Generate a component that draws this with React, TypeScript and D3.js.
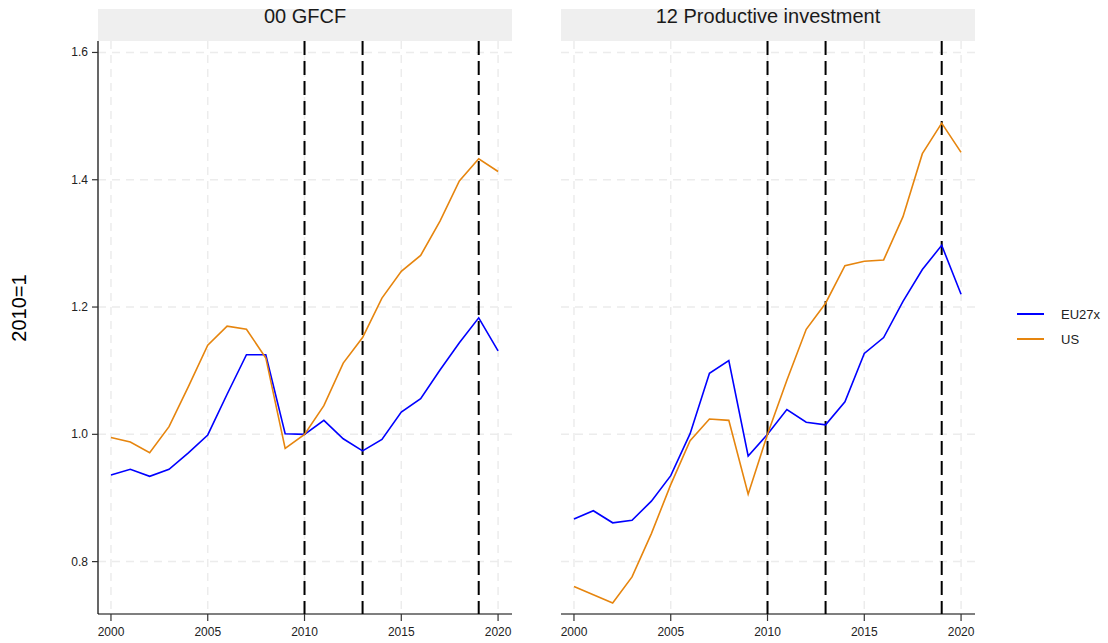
import React from "react";
import * as d3 from "d3";

const years = d3.range(2000, 2021);
const panels = ["00 GFCF", "12 Productive investment"];
const seriesNames = ["EU27x", "US"];
const seriesColors = ["#0000FF", "#E6850E"];

const gfcfEU = [0.936, 0.945, 0.934, 0.945, 0.971, 0.999, 1.063, 1.125, 1.125, 1.001, 1.0, 1.022, 0.993, 0.974, 0.992, 1.035, 1.056, 1.101, 1.144, 1.183, 1.131];
const gfcfUS = [0.995, 0.988, 0.971, 1.012, 1.075, 1.14, 1.17, 1.165, 1.12, 0.978, 1.0, 1.045, 1.112, 1.152, 1.214, 1.256, 1.281, 1.335, 1.398, 1.433, 1.413];
const prodEU = [0.867, 0.88, 0.861, 0.865, 0.895, 0.935, 1.001, 1.096, 1.116, 0.966, 1.0, 1.039, 1.019, 1.015, 1.051, 1.127, 1.152, 1.209, 1.259, 1.297, 1.22];
const prodUS = [0.761, 0.748, 0.735, 0.776, 0.844, 0.921, 0.99, 1.024, 1.022, 0.906, 1.0, 1.085, 1.165, 1.206, 1.265, 1.272, 1.274, 1.342, 1.441, 1.489, 1.443];

const panelData = [
  [gfcfEU, gfcfUS],
  [prodEU, prodUS],
];

const xTicks = [2000, 2005, 2010, 2015, 2020];
const yTicks = [0.8, 1.0, 1.2, 1.4, 1.6];
const vLines = [2010, 2013, 2019];

const W = 1108;
const H = 643;
const panelLefts = [98, 561];
const panelW = 414;
const plotTop = 41;
const plotBottom = 614;
const stripTop = 9;

const x = d3.scaleLinear().domain([1999.33, 2020.72]).range([0, panelW]);
const y = d3.scaleLinear().domain([0.7177, 1.618]).range([plotBottom, plotTop]);

const font = "Liberation Sans, Arial, Helvetica, sans-serif";

export default function App() {
  const line = d3
    .line<number>()
    .x((_, i) => x(years[i]))
    .y((d) => y(d));

  return (
    <svg width={W} height={H} style={{ position: "absolute", left: 0, top: 0, background: "#fff" }} fontFamily={font}>
      <text
        transform={`translate(26,308) rotate(-90)`}
        textAnchor="middle"
        fontSize={20}
        fill="#000"
      >
        2010=1
      </text>
      {panels.map((title, p) => (
        <g key={title} transform={`translate(${panelLefts[p]},0)`}>
          <rect x={0} y={stripTop} width={panelW} height={plotTop - stripTop} fill="#efefef" />
          <text x={panelW / 2} y={23} textAnchor="middle" fontSize={20} fill="#1a1a1a">
            {title}
          </text>
          {/* grid */}
          {yTicks.map((t) => (
            <line key={"gy" + t} x1={0} x2={panelW} y1={y(t)} y2={y(t)} stroke="#ececec" strokeWidth={1.5} strokeDasharray="8,6" />
          ))}
          {xTicks.map((t) => (
            <line key={"gx" + t} x1={x(t)} x2={x(t)} y1={plotTop} y2={plotBottom} stroke="#ececec" strokeWidth={1.5} strokeDasharray="8,6" />
          ))}
          {/* vertical dashed event lines */}
          {vLines.map((t) => (
            <line key={"v" + t} x1={x(t)} x2={x(t)} y1={plotTop} y2={plotBottom} stroke="#000" strokeWidth={2} strokeDasharray="14,6" />
          ))}
          {/* series */}
          {panelData[p].map((vals, s) => (
            <path key={s} d={line(vals) || ""} fill="none" stroke={seriesColors[s]} strokeWidth={1.6} />
          ))}
          {/* x axis */}
          <line x1={0} x2={panelW} y1={plotBottom} y2={plotBottom} stroke="#000" strokeWidth={1.2} />
          {xTicks.map((t) => (
            <g key={"xt" + t}>
              <line x1={x(t)} x2={x(t)} y1={plotBottom} y2={plotBottom + 7} stroke="#333" strokeWidth={1.2} />
              <text x={x(t)} y={plotBottom + 22} textAnchor="middle" fontSize={12} fill="#222">
                {t}
              </text>
            </g>
          ))}
          {/* y axis (first panel only) */}
          {p === 0 && (
            <g>
              <line x1={0} x2={0} y1={plotTop} y2={plotBottom} stroke="#000" strokeWidth={1.2} />
              {yTicks.map((t) => (
                <g key={"yt" + t}>
                  <line x1={-6} x2={0} y1={y(t)} y2={y(t)} stroke="#333" strokeWidth={1.2} />
                  <text x={-10} y={y(t) + 4} textAnchor="end" fontSize={12} fill="#222">
                    {d3.format(".1f")(t)}
                  </text>
                </g>
              ))}
            </g>
          )}
        </g>
      ))}
      {/* legend */}
      {seriesNames.map((n, i) => (
        <g key={n} transform={`translate(1017,${314 + i * 25})`}>
          <line x1={0} x2={27} y1={0} y2={0} stroke={seriesColors[i]} strokeWidth={2} />
          <text x={44} y={4.5} fontSize={13} fill="#222">
            {n}
          </text>
        </g>
      ))}
    </svg>
  );
}
